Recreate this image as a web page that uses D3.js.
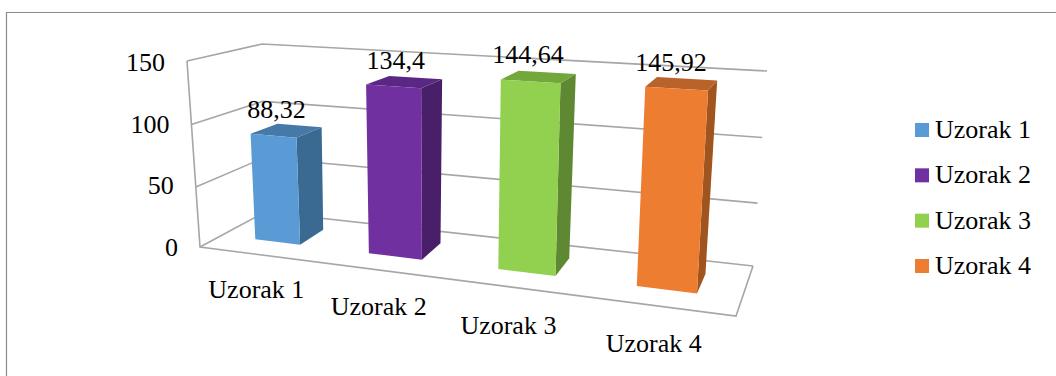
<!DOCTYPE html>
<html><head><meta charset="utf-8">
<script src="https://cdnjs.cloudflare.com/ajax/libs/d3/7.8.5/d3.min.js"></script>
<style>html,body{margin:0;padding:0;background:#fff}svg{display:block}text{font-family:"Liberation Serif",serif;fill:#000}</style>
</head><body><svg id="c" width="1056" height="376"></svg>
<script>
const categories = ["Uzorak 1","Uzorak 2","Uzorak 3","Uzorak 4"];
const values = [88.32,134.4,144.64,145.92];
const valueLabels = ["88,32","134,4","144,64","145,92"];
const yTicks = [0,50,100,150];
const frontColors = ["#5B9BD5","#7030A0","#92D050","#ED7D31"];
const sideColors = ["#3A6A92","#4A1F6A","#5F8833","#A0541E"];
const topColors = ["#4679A8","#5B2785","#72A73C","#B9622A"];
// label placement nudges (layout only)
const valueLabelShift = [[-10,-5],[-9,-5],[-11,-6],[-11,-5]];
const catLabelShift = [[1,-2],[2,-1],[-4,1],[-3,0]];

const svg = d3.select("#c");
const GRID="#A6A6A6", FS=26;
const C = {
 p000:[200,247], p100:[736,316], p010:[265,212], p110:[753,266],
 p001:[187,61],  p101:[749,96],  p011:[262,44],  p111:[767,71]
};
const lerp=(a,b,t)=>a+(b-a)*t;
function proj(u,v,w){
  return [0,1].map(i=>{
    const a=lerp(C.p000[i],C.p100[i],u), b=lerp(C.p010[i],C.p110[i],u);
    const c=lerp(C.p001[i],C.p101[i],u), d=lerp(C.p011[i],C.p111[i],u);
    return lerp(lerp(a,b,v),lerp(c,d,v),w);
  });
}
const x = d3.scaleBand().domain(categories).range([0,1]).paddingInner(0.58).paddingOuter(0.29);
const persp = d3.scalePow().exponent(1.15).domain([0,1]).range([0.016,0.995]);
const y = d3.scalePow().exponent(1.03).domain([0,150]).range([0,1]);
const tickY = d3.scaleLinear().domain([0,150]).range([256,71]);
const depth = d3.scaleLinear().domain([0,1]).range([0.34,0.74]);
const line = pts=>"M"+pts.map(p=>p.join(",")).join("L");
const poly = pts=>line(pts)+"Z";

svg.append("path").attr("d","M6.5,376V12.5H1056").attr("fill","none").attr("stroke","#8a8a8a").attr("stroke-width",1.2);

const g=svg.append("g").attr("fill","none").attr("stroke",GRID).attr("stroke-width",1.6);
yTicks.forEach(t=>{
  const w=y(t);
  g.append("path").attr("d",line([proj(0,0,w),proj(0,1,w),proj(1,1,w)]));
});
g.append("path").attr("d",line([proj(0,0,1),proj(0,0,0),proj(1,0,0),proj(1,1,0)]));

yTicks.forEach(t=>{
  const p=proj(0,0,y(t));
  svg.append("text").attr("x",p[0]-22).attr("y",tickY(t))
    .attr("text-anchor","end").attr("font-size",FS).text(t);
});

categories.forEach((c,i)=>{
  const u0=persp(x(c)), u1=persp(x(c)+x.bandwidth()), w=y(values[i]);
  const P=(u,v,wv)=>proj(u,depth(v),wv);
  const b=svg.append("g");
  b.append("path").attr("d",poly([P(u1,0,0),P(u1,1,0),P(u1,1,w),P(u1,0,w)])).attr("fill",sideColors[i]);
  b.append("path").attr("d",poly([P(u0,0,w),P(u1,0,w),P(u1,1,w),P(u0,1,w)])).attr("fill",topColors[i]);
  b.append("path").attr("d",poly([P(u0,0,0),P(u1,0,0),P(u1,0,w),P(u0,0,w)])).attr("fill",frontColors[i]);
  const m=(u0+u1)/2;
  const tp=proj(m,depth(0.5),w);
  svg.append("text").attr("x",tp[0]+valueLabelShift[i][0]).attr("y",tp[1]-8+valueLabelShift[i][1]).attr("text-anchor","middle").attr("font-size",FS).text(valueLabels[i]);
  const bp=proj(m,0,0);
  svg.append("text").attr("x",bp[0]-2+catLabelShift[i][0]).attr("y",bp[1]+46+catLabelShift[i][1]).attr("text-anchor","middle").attr("font-size",FS).text(c);
});

const ly=d3.scalePoint().domain(categories).range([123,259]);
categories.forEach((c,i)=>{
  svg.append("rect").attr("x",915).attr("y",ly(c)).attr("width",14).attr("height",14).attr("fill",frontColors[i]);
  svg.append("text").attr("x",935).attr("y",ly(c)+15).attr("font-size",FS).text(c);
});
</script></body></html>
